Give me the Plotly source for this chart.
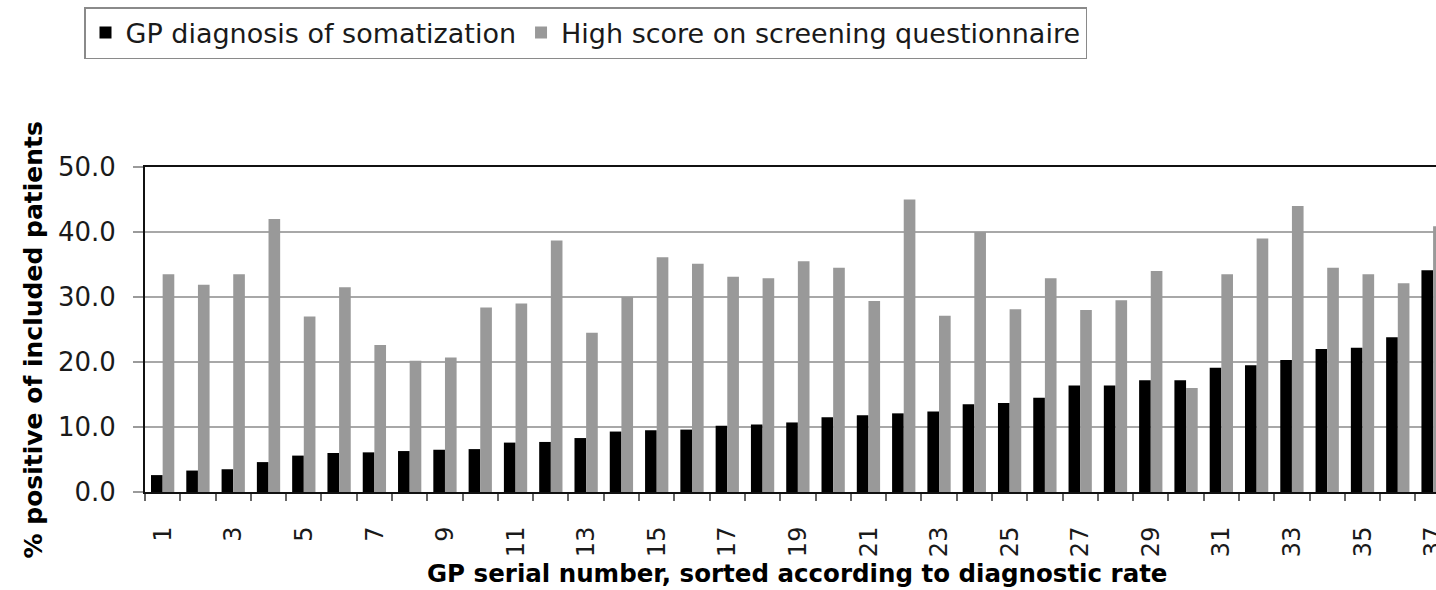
import plotly.graph_objects as go

# ---- data ----
gp_numbers = list(range(1, 38))
gp_diagnosis = [2.6, 3.3, 3.5, 4.6, 5.6, 6.0, 6.1, 6.3, 6.5, 6.6, 7.6, 7.7, 8.3, 9.3, 9.5,
                9.6, 10.2, 10.4, 10.7, 11.5, 11.8, 12.1, 12.4, 13.5, 13.7, 14.5, 16.4, 16.4,
                17.2, 17.2, 19.1, 19.5, 20.3, 22.0, 22.2, 23.8, 34.1]
high_score = [33.5, 31.9, 33.5, 42.0, 27.0, 31.5, 22.6, 20.2, 20.7, 28.4, 29.0, 38.7, 24.5,
              30.0, 36.1, 35.1, 33.1, 32.9, 35.5, 34.5, 29.4, 45.0, 27.1, 40.0, 28.1, 32.9,
              28.0, 29.5, 34.0, 16.0, 33.5, 39.0, 44.0, 34.5, 33.5, 32.1, 40.9]
# every other GP number is labelled; tick marks sit between the categories
x_tick_labels = [str(n) if n % 2 == 1 else "" for n in gp_numbers] + [""]
y_tick_values = [0, 10, 20, 30, 40, 50]
series_names = ["GP diagnosis of somatization", "High score on screening questionnaire"]
x_title = "GP serial number, sorted according to diagnostic rate"
y_title = "% positive of included patients"

FONT = "DejaVu Sans"
TXT = "#1a1a1a"

fig = go.Figure()
fig.add_trace(go.Bar(x=gp_numbers, y=gp_diagnosis, name=series_names[0],
                     marker=dict(color="#000000", line=dict(width=0))))
fig.add_trace(go.Bar(x=gp_numbers, y=high_score, name=series_names[1],
                     marker=dict(color="#999999", line=dict(width=0))))

L, T, B = 145, 167, 98
W, H = 1436, 590
cat_px = 35.29
plot_w = W - L
plot_h = H - T - B
x_end = 0.5 + plot_w / cat_px

# category boundaries (n - 0.5) carry the tick marks; labels are shifted half a category
boundary_ticks = [n - 0.5 for n in gp_numbers] + [gp_numbers[-1] + 0.5]

fig.update_layout(
    template="none",
    width=W, height=H,
    margin=dict(l=L, r=0, t=T, b=B, pad=0),
    paper_bgcolor="white", plot_bgcolor="white",
    barmode="group", bargap=0.34, bargroupgap=0.0,
    font=dict(family=FONT, color=TXT),
    showlegend=True,
    legend=dict(
        orientation="h",
        x=(84 - L) / plot_w, xanchor="left",
        y=(H - B - 7) / plot_h, yanchor="top",
        bordercolor="#8a8a8a", borderwidth=1.5,
        bgcolor="white",
        font=dict(family=FONT, size=27, color=TXT),
        itemclick=False, itemdoubleclick=False,
    ),
    xaxis=dict(
        range=[0.5, x_end],
        tickmode="array", tickvals=boundary_ticks, ticktext=x_tick_labels,
        ticklabelshift=int(round(cat_px / 2)),
        tickangle=-90, ticks="outside", ticklen=7, tickwidth=1.5, tickcolor="#666666",
        ticklabelstandoff=16, ticklabeloverflow="allow",
        tickfont=dict(family=FONT, size=24, color=TXT),
        showgrid=False, zeroline=False,
        showline=True, linecolor="#111111", linewidth=2, mirror=True,
        automargin=False,
    ),
    yaxis=dict(
        range=[0, 50],
        tickmode="array", tickvals=y_tick_values,
        tickformat=".1f",
        ticks="outside", ticklen=10, tickwidth=1.5, tickcolor="#9a9a9a",
        ticklabelstandoff=12,
        tickfont=dict(family=FONT, size=26, color=TXT),
        showgrid=True, gridcolor="#a8a8a8", gridwidth=1.5,
        zeroline=False,
        showline=True, linecolor="#111111", linewidth=2, mirror=False,
        automargin=False,
    ),
    annotations=[
        dict(text="<b>" + x_title + "</b>", xref="paper", yref="paper",
             x=(797 - L) / plot_w, y=(H - B - 573) / plot_h,
             xanchor="center", yanchor="middle", showarrow=False,
             font=dict(family=FONT, size=24.5, color="#000000")),
        dict(text="<b>" + y_title + "</b>", xref="paper", yref="paper",
             x=(32.5 - L) / plot_w, y=(H - B - 340) / plot_h,
             xanchor="center", yanchor="middle", showarrow=False, textangle=-90,
             font=dict(family=FONT, size=25, color="#000000")),
    ],
)

fig.write_html("out.html",
               config={"displayModeBar": False},
               post_script="document.body.style.margin='0';document.body.style.overflow='hidden';")
